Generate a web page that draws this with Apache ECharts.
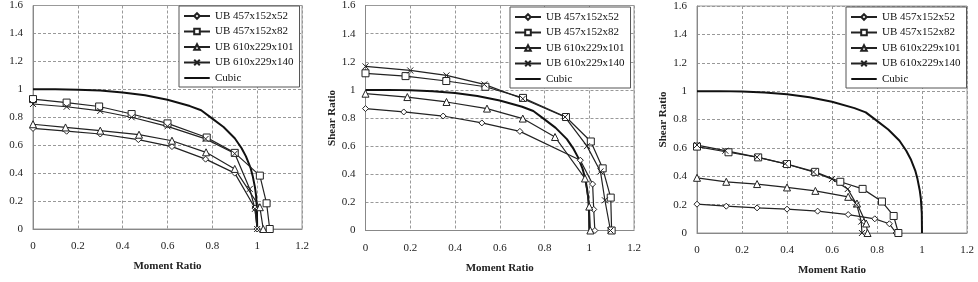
<!DOCTYPE html>
<html>
<head>
<meta charset="utf-8">
<script src="https://cdn.jsdelivr.net/npm/echarts@6/dist/echarts.min.js"></script>
<style>
html, body { margin: 0; padding: 0; background: #fff; }
#chart { width: 978px; height: 282px; }
</style>
</head>
<body>
<div id="chart"></div>
<script>
// series names / tick labels
var seriesNames = ['UB 457x152x52', 'UB 457x152x82', 'UB 610x229x101', 'UB 610x229x140', 'Cubic'];
var xTicks = [0, 0.2, 0.4, 0.6, 0.8, 1, 1.2];
var yTicks = [0, 0.2, 0.4, 0.6, 0.8, 1, 1.2, 1.4, 1.6];

// cubic interaction curve (same in all three panels)
var cubicX = [0, 0.1, 0.2, 0.3, 0.4, 0.5, 0.6, 0.7, 0.75, 0.8, 0.85, 0.9, 0.93, 0.95, 0.97, 0.98, 0.99, 0.995, 0.999, 1.0];
var cubicY = [1, 1, 0.997, 0.991, 0.978, 0.957, 0.925, 0.88, 0.85, 0.79, 0.73, 0.65, 0.58, 0.52, 0.44, 0.38, 0.3, 0.24, 0.14, 0];

// panel 1 [moment, shear]
var p1Diamond = [[0, 0.72], [0.15, 0.70], [0.30, 0.68], [0.47, 0.64], [0.62, 0.59], [0.77, 0.50], [0.90, 0.40], [0.99, 0.15], [1.0, 0]];
var p1Square = [[0, 0.93], [0.15, 0.905], [0.295, 0.877], [0.44, 0.823], [0.60, 0.756], [0.775, 0.655], [0.90, 0.545], [1.012, 0.382], [1.042, 0.184], [1.056, 0]];
var p1Triangle = [[0, 0.75], [0.145, 0.727], [0.30, 0.704], [0.473, 0.675], [0.62, 0.632], [0.772, 0.549], [0.90, 0.43], [1.012, 0.156], [1.027, 0]];
var p1Cross = [[0, 0.895], [0.15, 0.875], [0.30, 0.845], [0.44, 0.80], [0.60, 0.735], [0.77, 0.645], [0.90, 0.54], [0.967, 0.287], [0.99, 0.144], [1.0, 0]];

// panel 2
var p2Diamond = [[0, 0.867], [0.171, 0.843], [0.347, 0.814], [0.52, 0.765], [0.69, 0.705], [0.96, 0.50], [1.015, 0.33], [1.02, 0.15], [1.025, 0]];
var p2Square = [[0, 1.118], [0.179, 1.098], [0.361, 1.063], [0.536, 1.022], [0.704, 0.943], [0.896, 0.807], [1.007, 0.633], [1.06, 0.442], [1.096, 0.234], [1.1, 0]];
var p2Triangle = [[0, 0.973], [0.187, 0.949], [0.362, 0.914], [0.543, 0.867], [0.703, 0.796], [0.847, 0.665], [0.981, 0.37], [1.0, 0.17], [1.005, 0]];
var p2Cross = [[0, 1.167], [0.2, 1.138], [0.362, 1.103], [0.531, 1.039], [0.703, 0.937], [0.892, 0.807], [0.99, 0.6], [1.05, 0.42], [1.07, 0.215], [1.095, 0]];

// panel 3
var p3Diamond = [[0, 0.203], [0.13, 0.189], [0.267, 0.177], [0.40, 0.168], [0.536, 0.154], [0.672, 0.13], [0.79, 0.10], [0.855, 0.065], [0.885, 0]];
var p3Square = [[0, 0.609], [0.14, 0.569], [0.272, 0.533], [0.40, 0.486], [0.525, 0.431], [0.637, 0.361], [0.736, 0.311], [0.822, 0.222], [0.874, 0.12], [0.895, 0]];
var p3Triangle = [[0, 0.389], [0.13, 0.361], [0.267, 0.345], [0.40, 0.321], [0.526, 0.297], [0.672, 0.255], [0.711, 0.208], [0.752, 0.067], [0.758, 0]];
var p3Cross = [[0, 0.62], [0.126, 0.58], [0.267, 0.535], [0.392, 0.488], [0.518, 0.43], [0.60, 0.38], [0.67, 0.31], [0.71, 0.2], [0.73, 0.08], [0.733, 0]];

var panels = [
    [p1Diamond, p1Square, p1Triangle, p1Cross],
    [p2Diamond, p2Square, p2Triangle, p2Cross],
    [p3Diamond, p3Square, p3Triangle, p3Cross]
];

var chart = echarts.init(document.getElementById('chart'), null, {renderer: 'canvas'});

var font = 'Liberation Serif, Times New Roman, serif';
var ink = '#222';
var grids = [
    {left: 33, top: 5, width: 269, height: 224},
    {left: 365.5, top: 5, width: 268.5, height: 225.5},
    {left: 697, top: 6, width: 270, height: 227}
];
var legendPos = [
    {left: 179, top: 6},
    {left: 510, top: 7},
    {left: 846, top: 7}
];
// y axis title of the first panel falls outside the picture
var yNames = ['', 'Shear Ratio', 'Shear Ratio'];
var symbols = ['diamond', 'rect', 'triangle', 'path://M0,0L10,10M0,10L10,0'];
var symbolSizes = [6, 7, 7, 6];

function cubicPairs() {
    var out = [];
    for (var i = 0; i < cubicX.length; i++) out.push([cubicX[i], cubicY[i]]);
    return out;
}

function tickText(list) {
    return function (v) {
        var r = Math.round(v * 10) / 10;
        return list.indexOf(r) >= 0 ? String(r) : '';
    };
}

var legendData = seriesNames.map(function (n) {
    if (n === 'Cubic') {
        // plain thick line, no marker
        return {name: n, icon: 'path://M0,0L40,0L40,0.05L0,0.05Z M0,3.9L40,3.9L40,7.1L0,7.1Z M0,10.95L40,10.95L40,11L0,11Z'};
    }
    return n;
});

var option = {
    backgroundColor: '#fff',
    animation: false,
    grid: [],
    xAxis: [],
    yAxis: [],
    legend: [],
    series: []
};

for (var g = 0; g < 3; g++) {
    option.grid.push({
        left: grids[g].left, top: grids[g].top, width: grids[g].width, height: grids[g].height,
        show: true, borderColor: '#999', borderWidth: 1, backgroundColor: '#fff'
    });
    option.xAxis.push({
        type: 'value', gridIndex: g, min: 0, max: 1.2, interval: 0.2,
        name: 'Moment Ratio', nameLocation: 'middle', nameGap: 32,
        nameTextStyle: {fontFamily: font, fontWeight: 'bold', fontSize: 11, color: ink},
        axisLine: {show: true, lineStyle: {color: '#888', width: 1}},
        axisTick: {show: false},
        axisLabel: {fontFamily: font, fontSize: 11, color: ink, margin: 12, formatter: tickText(xTicks)},
        splitLine: {show: true, lineStyle: {color: '#999', type: [3, 2], width: 1}}
    });
    option.yAxis.push({
        type: 'value', gridIndex: g, min: 0, max: 1.6, interval: 0.2,
        name: yNames[g], nameLocation: 'middle', nameGap: 28,
        nameTextStyle: {fontFamily: font, fontWeight: 'bold', fontSize: 11, color: ink},
        axisLine: {show: true, lineStyle: {color: '#888', width: 1}},
        axisTick: {show: false},
        axisLabel: {fontFamily: font, fontSize: 11, color: ink, margin: 10, formatter: tickText(yTicks)},
        splitLine: {show: true, lineStyle: {color: '#999', type: [3, 2], width: 1}}
    });
    option.legend.push({
        data: legendData,
        orient: 'vertical',
        left: legendPos[g].left, top: legendPos[g].top,
        backgroundColor: '#fff', borderColor: '#555', borderWidth: 1,
        padding: [4, 6, 3, 4],
        itemWidth: 26, itemHeight: 7, itemGap: 3.5,
        selectedMode: false,
        textStyle: {fontFamily: font, fontSize: 11, color: '#111', lineHeight: 12}
    });
    for (var s = 0; s < 4; s++) {
        option.series.push({
            name: seriesNames[s], type: 'line', xAxisIndex: g, yAxisIndex: g,
            data: panels[g][s],
            symbol: symbols[s], symbolSize: symbolSizes[s], showAllSymbol: true,
            lineStyle: {color: ink, width: 1.2},
            itemStyle: {color: '#fff', borderColor: ink, borderWidth: 1},
            z: 3
        });
    }
    option.series.push({
        name: 'Cubic', type: 'line', xAxisIndex: g, yAxisIndex: g,
        data: cubicPairs(),
        showSymbol: false, symbol: 'none',
        lineStyle: {color: '#111', width: 2},
        itemStyle: {color: '#111'},
        z: 2
    });
}

chart.setOption(option);
</script>
</body>
</html>
